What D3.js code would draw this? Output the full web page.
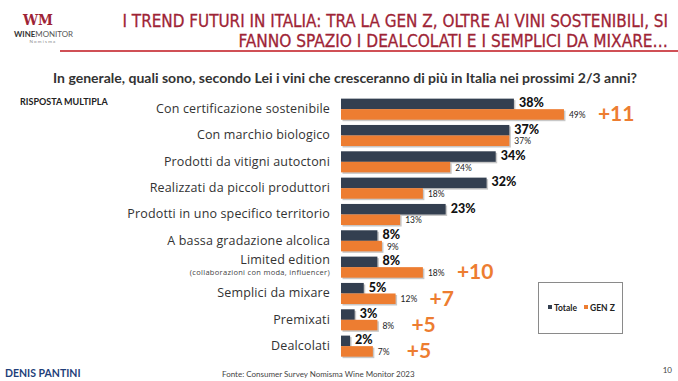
<!DOCTYPE html>
<html><head><meta charset="utf-8">
<script src="https://cdnjs.cloudflare.com/ajax/libs/d3/7.8.5/d3.min.js"></script>
<style>
html,body{margin:0;padding:0;background:#fff;}
svg{display:block;}
</style></head>
<body><div id="chart"></div>
<script>
const categories = [
  "Con certificazione sostenibile",
  "Con marchio biologico",
  "Prodotti da vitigni autoctoni",
  "Realizzati da piccoli produttori",
  "Prodotti in uno specifico territorio",
  "A bassa gradazione alcolica",
  "Limited edition",
  "Semplici da mixare",
  "Premixati",
  "Dealcolati"
];
const sublabels = ["", "", "", "", "", "", "(collaborazioni con moda, influencer)", "", "", ""];
const totale = [38, 37, 34, 32, 23, 8, 8, 5, 3, 2];
const genz = [49, 37, 24, 18, 13, 9, 18, 12, 8, 7];
const diffs = ["+11", "", "", "", "", "", "+10", "+7", "+5", "+5"];
const seriesNames = ["Totale", "GEN Z"];
const titleLines = ["I TREND FUTURI IN ITALIA: TRA LA GEN Z, OLTRE AI VINI SOSTENIBILI, SI",
                    "FANNO SPAZIO I DEALCOLATI E I SEMPLICI DA MIXARE…"];
const subtitle = "In generale, quali sono, secondo Lei i vini che cresceranno di più in Italia nei prossimi 2/3 anni?";

const W = 678, H = 381;
const colTot = "#333f50", colGen = "#ed7d31", titleCol = "#9e2436";
const svg = d3.select("#chart").append("svg").attr("width", W).attr("height", H);

// Logo
const logo = svg.append("g");
logo.append("text").attr("x", 38).attr("y", 25).attr("text-anchor", "middle")
  .attr("font-family", "DejaVu Serif").attr("font-weight", "bold").attr("font-size", 15)
  .attr("fill", titleCol).attr("textLength", 30).attr("lengthAdjust", "spacingAndGlyphs").text("WM");
const wm = logo.append("text").attr("x", 14).attr("y", 37).attr("font-family", "Lato, sans-serif")
  .attr("font-size", 8).attr("fill", "#555").attr("textLength", 59).attr("lengthAdjust", "spacingAndGlyphs");
wm.append("tspan").attr("font-weight", "bold").attr("fill", "#333").text("WINE");
wm.append("tspan").text("MONITOR");
logo.append("text").attr("x", 43).attr("y", 43).attr("text-anchor", "middle").attr("font-family", "Lato, sans-serif")
  .attr("font-size", 4.5).attr("letter-spacing", 1.2).attr("fill", "#888").text("Nomisma");

// Title (scaled horizontally to the reference width)
const tw = [546, 430];
titleLines.forEach((t, i) => {
  const tt = svg.append("text").attr("x", 0).attr("y", 0).attr("text-anchor", "end")
    .attr("font-family", "'Liberation Sans Narrow', 'DejaVu Sans Condensed', sans-serif")
    .attr("font-size", 18.5).attr("fill", titleCol).attr("stroke", titleCol).attr("stroke-width", 0.3)
    .text(t);
  const len = tt.node().getComputedTextLength() || tw[i];
  tt.attr("transform", `translate(668,${27 + i * 20}) scale(${tw[i] / len},1)`);
});
svg.append("line").attr("x1", 60).attr("x2", 678).attr("y1", 51).attr("y2", 51)
  .attr("stroke", "#c0161e").attr("stroke-width", 1.6);

// Subtitle
svg.append("text").attr("x", 53).attr("y", 83).attr("font-family", "Lato, sans-serif")
  .attr("font-weight", "bold").attr("font-size", 14).attr("fill", "#333")
  .attr("textLength", 584).attr("lengthAdjust", "spacingAndGlyphs").text(subtitle);

svg.append("text").attr("x", 20).attr("y", 105).attr("font-family", "Lato, sans-serif")
  .attr("font-weight", "bold").attr("font-size", 9).attr("fill", "#222").text("RISPOSTA MULTIPLA");

// Scales
const x = d3.scaleLinear().domain([0, 50]).range([341, 568.5]);
const y = d3.scaleBand().domain(categories).range([96, 359.3]).paddingInner(0.2).paddingOuter(0.1);
const sub = d3.scaleBand().domain(seriesNames).range([0, y.bandwidth()]);

const rows = svg.append("g").selectAll("g").data(categories).join("g")
  .attr("transform", d => `translate(0,${y(d)})`);

const bw = sub.bandwidth();
rows.each(function(d, i) {
  const g = d3.select(this);
  [[totale[i], "Totale"], [genz[i], "GEN Z"]].forEach(([v, s]) => {
    g.append("rect").attr("x", x(0) + 1.5).attr("y", sub(s) + 1.5)
      .attr("width", x(v) - x(0)).attr("height", bw).attr("fill", "#c8c8c8");
  });
  g.append("rect").attr("x", x(0)).attr("y", sub("Totale")).attr("width", x(totale[i]) - x(0))
    .attr("height", bw).attr("fill", colTot);
  g.append("rect").attr("x", x(0)).attr("y", sub("GEN Z")).attr("width", x(genz[i]) - x(0))
    .attr("height", bw).attr("fill", colGen);
  g.append("text").attr("x", x(totale[i]) + 5).attr("y", sub("Totale") + bw / 2 + 3.5)
    .attr("font-family", "Lato, sans-serif").attr("font-weight", "900").attr("font-size", 12.5)
    .attr("fill", "#111").text(totale[i] + "%");
  g.append("text").attr("x", x(genz[i]) + 5).attr("y", sub("GEN Z") + bw / 2 + 3.5)
    .attr("font-family", "Lato, sans-serif").attr("font-size", 8.5)
    .attr("fill", "#222").text(genz[i] + "%");
  if (diffs[i]) {
    g.append("text").attr("x", x(genz[i]) + 34).attr("y", sub("GEN Z") + bw / 2 + 7)
      .attr("font-family", "Lato, sans-serif").attr("font-weight", "bold").attr("font-size", 21)
      .attr("fill", colGen).text(diffs[i]);
  }
  const lab = g.append("text").attr("text-anchor", "end").attr("x", 330)
    .attr("font-family", "'Open Sans', sans-serif").attr("font-size", 12.5)
    .attr("letter-spacing", 0.15).attr("fill", "#333");
  if (sublabels[i]) {
    lab.attr("y", bw - 3).text(d);
    g.append("text").attr("text-anchor", "end").attr("x", 330).attr("y", bw + 8)
      .attr("font-family", "'Open Sans', sans-serif").attr("font-size", 7.5)
      .attr("letter-spacing", 0.3).attr("fill", "#444").text(sublabels[i]);
  } else {
    lab.attr("y", bw + 4).text(d);
  }
});

// Legend
const lg = svg.append("g");
lg.append("rect").attr("x", 538.5).attr("y", 282.5).attr("width", 84).attr("height", 51)
  .attr("fill", "#fff").attr("stroke", "#8a8a8a").attr("stroke-width", 1);
[["Totale", colTot, 548], ["GEN Z", colGen, 584]].forEach(([n, c, lx]) => {
  lg.append("rect").attr("x", lx).attr("y", 305).attr("width", 4).attr("height", 4).attr("fill", c);
  lg.append("text").attr("x", lx + 6).attr("y", 310.5).attr("font-family", "Lato, sans-serif")
    .attr("font-weight", "bold").attr("font-size", 8.5).attr("fill", "#222").text(n);
});

// Footer
svg.append("text").attr("x", 5).attr("y", 377).attr("font-family", "Lato, sans-serif")
  .attr("font-weight", "bold").attr("font-size", 10.5).attr("fill", "#1f3f7a").text("DENIS PANTINI");
svg.append("text").attr("x", 222).attr("y", 377).attr("font-family", "Lato, sans-serif")
  .attr("font-size", 8).attr("fill", "#444").text("Fonte: Consumer Survey Nomisma Wine Monitor 2023");
svg.append("text").attr("x", 672).attr("y", 373).attr("text-anchor", "end").attr("font-family", "Lato, sans-serif")
  .attr("font-size", 8).attr("fill", "#444").text("10");
</script></body></html>
